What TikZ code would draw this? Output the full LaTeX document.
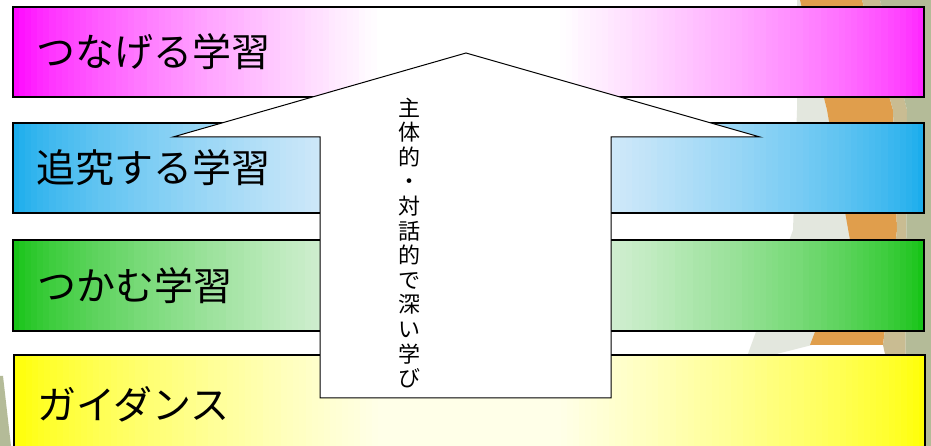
\documentclass[tikz,border=0pt]{standalone}
\usepackage{fontspec}
\newfontfamily\jp{Noto Sans CJK JP}
\definecolor{mag}{HTML}{FF00FF}
\definecolor{magR}{HTML}{FF22FF}
\definecolor{blu}{HTML}{16ABEC}
\definecolor{bluM}{HTML}{E6F0FB}
\definecolor{grn}{HTML}{12C212}
\definecolor{grnM}{HTML}{E8F4E8}
\definecolor{yel}{HTML}{FFFF00}
\definecolor{yelM}{HTML}{FFFFE8}
\definecolor{bgLight}{HTML}{E3E7DE}
\definecolor{bgOrange}{HTML}{E09E4C}
\definecolor{bgTan}{HTML}{C9BC92}
\definecolor{bgGreen}{HTML}{B4BB98}
% #1 x0, #2 y0, #3 x1, #4 y1, #5 left colour, #6 middle colour, #7 right colour
\newcommand\GradBar[7]{%
  \foreach \i in {0,...,149}{%
    \pgfmathsetmacro\gxa{#1+(#3-#1)/150*\i}%
    \pgfmathsetmacro\gxb{#1+(#3-#1)/150*(\i+1)+0.7}%
    \pgfmathsetmacro\gpos{(\i+0.5)/150}%
    \pgfmathtruncatemacro\gpl{100*pow(min(1,\gpos/0.4),0.7)}%
    \pgfmathtruncatemacro\gpr{100*pow(min(1,(1-\gpos)/0.4),0.7)}%
    \ifdim\gpos pt<0.5pt
      \fill[#6!\gpl!#5] (\gxa,#2) rectangle (\gxb,#4);
    \else
      \fill[#6!\gpr!#7] (\gxa,#2) rectangle (\gxb,#4);
    \fi
  }%
}
\begin{document}
\begin{tikzpicture}[x=1pt,y=1pt,
  bar/.style={draw=black, line width=1.4pt, minimum width=911pt, minimum height=90pt, inner sep=0pt, outer sep=0pt},
  lbl/.style={font=\jp\fontsize{39}{41}\selectfont, anchor=west, inner sep=0pt},
  vlbl/.style={font=\jp\fontsize{22}{24.6}\selectfont, align=center, inner sep=0pt}]
\useasboundingbox (0,0) rectangle (931,446);
\clip (0,0) rectangle (931,446);
% background decoration
\fill[white] (0,0) rectangle (931,446);
\fill[bgLight] (797,446) -- (801,446) -- (827,336) -- (857,216) -- (812,101) -- (745,84) -- (793,216) -- (797,336) -- cycle;
\fill[bgOrange] (800,446) -- (862,446) -- (893,336) -- (897,216) -- (883,101) -- (810,101) -- (850,206) -- (827,336) -- cycle;
\fill[bgTan] (862,446) -- (880,446) -- (907,336) -- (905,0) -- (883,101) -- (897,216) -- (893,336) -- cycle;
\fill[bgGreen] (880,446) -- (931,446) -- (931,0) -- (905,0) -- (907,336) -- cycle;
\fill[bgGreen] (0,70) -- (3,70) -- (11,0) -- (0,0) -- cycle;
% bar fills
\GradBar{13}{349}{924}{439}{mag}{white}{magR}
\GradBar{13}{233}{924}{323}{blu}{bluM}{blu}
\GradBar{13}{115}{924}{206}{grn}{grnM}{grn}
\GradBar{14}{-10}{925}{91}{yel}{yelM}{yel}
% bar outlines
\node[bar] (b1) at (468.5,394) {};
\node[bar] (b2) at (468.5,278) {};
\node[bar, minimum height=91pt] (b3) at (468.5,160.5) {};
\node[bar, minimum height=101pt] (b4) at (469.5,40.5) {};
% labels
\node[lbl] (l1) at (36,394) {つなげる学習};
\node[lbl] (l2) at (36,278) {追究する学習};
\node[lbl] (l3) at (37,160) {つかむ学習};
\node[lbl] (l4) at (37,42) {ガイダンス};
% arrow
\draw[fill=white, line width=1pt, line join=miter]
  (320,48) -- (320,309) -- (173,309) -- (466,393) -- (760,309) -- (611,309) -- (611,48) -- cycle;
\node[vlbl] (vt) at (409,203) {主\\体\\的\\・\\対\\話\\的\\で\\深\\い\\学\\び};
\end{tikzpicture}
\end{document}
